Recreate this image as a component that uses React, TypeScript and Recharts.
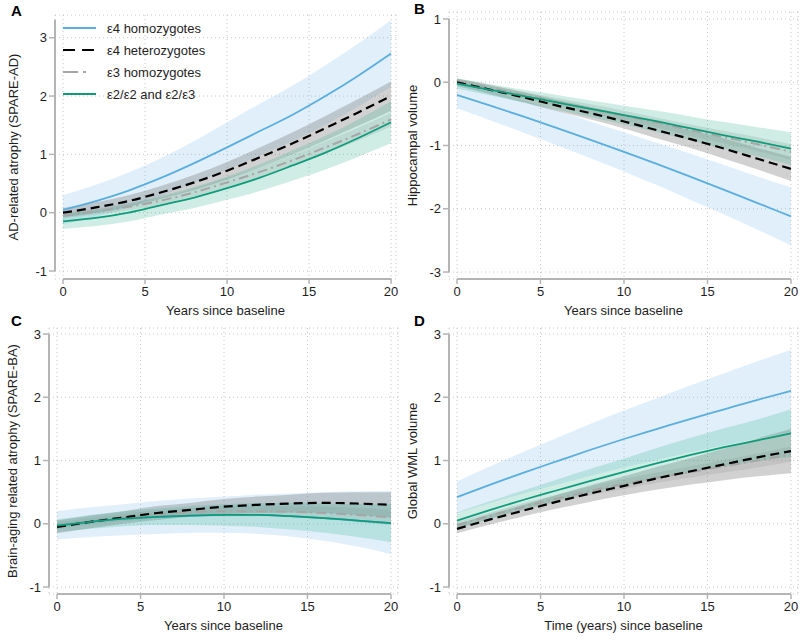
import React from "react";
import {
  ComposedChart,
  Line,
  Area,
  XAxis,
  YAxis,
  CartesianGrid,
  ReferenceLine,
} from "recharts";

// shared x values / ticks
const YEARS = [0, 2, 4, 6, 8, 10, 12, 14, 16, 18, 20];
const X_TICKS = [0, 5, 10, 15, 20];
const SERIES_NAMES = ["ε4 homozygotes", "ε4 heterozygotes", "ε3 homozygotes", "ε2/ε2 and ε2/ε3"];

// Panel A - SPARE-AD
const A_E4HOM = [0.05, 0.2, 0.38, 0.6, 0.85, 1.12, 1.4, 1.68, 2.0, 2.35, 2.73];
const A_E4HOM_LO = [-0.2, -0.07, 0.09, 0.29, 0.51, 0.74, 0.98, 1.23, 1.51, 1.82, 2.16];
const A_E4HOM_HI = [0.3, 0.48, 0.69, 0.94, 1.23, 1.55, 1.87, 2.18, 2.53, 2.9, 3.3];
const A_E4HET = [0.0, 0.09, 0.2, 0.35, 0.52, 0.72, 0.95, 1.19, 1.45, 1.72, 2.0];
const A_E4HET_LO = [-0.08, 0.0, 0.1, 0.24, 0.39, 0.57, 0.78, 1.0, 1.24, 1.49, 1.75];
const A_E4HET_HI = [0.08, 0.18, 0.3, 0.46, 0.65, 0.87, 1.12, 1.38, 1.66, 1.95, 2.25];
const A_E3HOM = [-0.05, 0.02, 0.1, 0.21, 0.35, 0.52, 0.7, 0.9, 1.12, 1.35, 1.6];
const A_E3HOM_LO = [-0.1, -0.03, 0.04, 0.15, 0.28, 0.44, 0.62, 0.81, 1.02, 1.24, 1.48];
const A_E3HOM_HI = [0.0, 0.07, 0.16, 0.27, 0.42, 0.6, 0.78, 0.99, 1.22, 1.46, 1.72];
const A_E2 = [-0.15, -0.09, 0.0, 0.13, 0.26, 0.42, 0.6, 0.81, 1.03, 1.28, 1.55];
const A_E2_LO = [-0.28, -0.23, -0.15, -0.03, 0.08, 0.22, 0.37, 0.55, 0.74, 0.96, 1.19];
const A_E2_HI = [-0.02, 0.05, 0.15, 0.29, 0.44, 0.62, 0.83, 1.07, 1.32, 1.6, 1.91];

// Panel B - hippocampal volume
const B_E4HOM = [-0.2, -0.37, -0.545, -0.725, -0.91, -1.1, -1.295, -1.495, -1.7, -1.91, -2.12];
const B_E4HOM_LO = [-0.41, -0.6, -0.8, -1.0, -1.2, -1.41, -1.63, -1.86, -2.09, -2.33, -2.58];
const B_E4HOM_HI = [0.01, -0.14, -0.29, -0.45, -0.62, -0.79, -0.96, -1.13, -1.31, -1.49, -1.66];
const B_E4HET = [0.0, -0.12, -0.24, -0.37, -0.49, -0.62, -0.76, -0.9, -1.05, -1.21, -1.37];
const B_E4HET_LO = [-0.06, -0.19, -0.32, -0.46, -0.59, -0.73, -0.89, -1.04, -1.21, -1.38, -1.56];
const B_E4HET_HI = [0.06, -0.05, -0.16, -0.28, -0.39, -0.51, -0.63, -0.76, -0.89, -1.04, -1.18];
const B_E3HOM = [0.02, -0.09, -0.2, -0.31, -0.42, -0.53, -0.64, -0.76, -0.87, -0.98, -1.1];
const B_E3HOM_LO = [-0.02, -0.14, -0.25, -0.37, -0.49, -0.61, -0.72, -0.85, -0.97, -1.09, -1.22];
const B_E3HOM_HI = [0.06, -0.04, -0.15, -0.25, -0.35, -0.45, -0.56, -0.67, -0.77, -0.87, -0.98];
const B_E2 = [-0.02, -0.12, -0.22, -0.32, -0.42, -0.52, -0.62, -0.73, -0.84, -0.94, -1.05];
const B_E2_LO = [-0.1, -0.21, -0.32, -0.44, -0.55, -0.67, -0.79, -0.92, -1.05, -1.17, -1.31];
const B_E2_HI = [0.06, -0.03, -0.12, -0.2, -0.29, -0.37, -0.45, -0.54, -0.63, -0.71, -0.79];

// Panel C - SPARE-BA (ε4 homozygote line sits under the ε2 line)
const C_E4HOM = [-0.03, 0.03, 0.08, 0.11, 0.13, 0.14, 0.14, 0.12, 0.09, 0.05, 0.01];
const C_E4HOM_LO = [-0.25, -0.21, -0.18, -0.16, -0.14, -0.14, -0.16, -0.2, -0.27, -0.36, -0.48];
const C_E4HOM_HI = [0.2, 0.26, 0.31, 0.36, 0.4, 0.43, 0.46, 0.48, 0.5, 0.51, 0.52];
const C_E4HET = [-0.05, 0.03, 0.1, 0.17, 0.22, 0.27, 0.3, 0.32, 0.33, 0.32, 0.3];
const C_E4HET_LO = [-0.15, -0.07, 0.0, 0.06, 0.11, 0.15, 0.17, 0.18, 0.17, 0.14, 0.1];
const C_E4HET_HI = [0.05, 0.13, 0.2, 0.28, 0.33, 0.39, 0.43, 0.46, 0.49, 0.5, 0.5];
const C_E3HOM = [-0.03, 0.04, 0.1, 0.15, 0.18, 0.2, 0.2, 0.19, 0.17, 0.14, 0.1];
const C_E3HOM_LO = [-0.08, -0.01, 0.04, 0.09, 0.11, 0.12, 0.12, 0.1, 0.07, 0.03, -0.02];
const C_E3HOM_HI = [0.02, 0.09, 0.16, 0.21, 0.25, 0.28, 0.28, 0.28, 0.27, 0.25, 0.22];
const C_E2 = [-0.03, 0.03, 0.08, 0.11, 0.13, 0.14, 0.14, 0.12, 0.09, 0.05, 0.01];
const C_E2_LO = [-0.13, -0.08, -0.04, -0.02, -0.02, -0.03, -0.05, -0.09, -0.14, -0.21, -0.29];
const C_E2_HI = [0.07, 0.14, 0.2, 0.24, 0.28, 0.31, 0.33, 0.33, 0.32, 0.31, 0.31];

// Panel D - global WML volume
const D_E4HOM = [0.42, 0.62, 0.81, 0.99, 1.17, 1.34, 1.5, 1.66, 1.81, 1.96, 2.1];
const D_E4HOM_LO = [0.17, 0.33, 0.48, 0.62, 0.76, 0.89, 1.01, 1.13, 1.24, 1.35, 1.45];
const D_E4HOM_HI = [0.67, 0.91, 1.14, 1.36, 1.58, 1.79, 1.99, 2.19, 2.38, 2.57, 2.75];
const D_E4HET = [-0.08, 0.07, 0.21, 0.35, 0.48, 0.6, 0.72, 0.83, 0.94, 1.05, 1.15];
const D_E4HET_LO = [-0.15, -0.01, 0.12, 0.24, 0.35, 0.45, 0.54, 0.62, 0.69, 0.75, 0.8];
const D_E4HET_HI = [-0.01, 0.15, 0.3, 0.46, 0.61, 0.75, 0.9, 1.04, 1.19, 1.35, 1.5];
const D_E3HOM = [-0.02, 0.13, 0.27, 0.4, 0.52, 0.63, 0.73, 0.82, 0.91, 1.0, 1.1];
const D_E3HOM_LO = [-0.07, 0.08, 0.21, 0.34, 0.45, 0.55, 0.65, 0.73, 0.81, 0.89, 0.98];
const D_E3HOM_HI = [0.03, 0.18, 0.33, 0.46, 0.59, 0.71, 0.81, 0.91, 1.01, 1.11, 1.22];
const D_E2 = [0.05, 0.22, 0.38, 0.53, 0.68, 0.82, 0.96, 1.09, 1.21, 1.32, 1.43];
const D_E2_LO = [-0.08, 0.08, 0.23, 0.36, 0.49, 0.61, 0.72, 0.82, 0.91, 0.99, 1.05];
const D_E2_HI = [0.18, 0.36, 0.53, 0.7, 0.87, 1.03, 1.2, 1.36, 1.51, 1.65, 1.81];

const FONT = '"Liberation Sans", Arial, sans-serif';
const TEXT = "#1e1e1e";
const AXIS = "#b4b4b4";

// one style per genotype group, same order as SERIES_NAMES
const STYLES = [
  { color: "#5aaedd", band: "#7dbce9", bandOpacity: 0.24, dash: undefined, width: 1.8, legendDash: undefined },
  { color: "#000000", band: "#707070", bandOpacity: 0.32, dash: "9 5", width: 2.2, legendDash: "12 7" },
  { color: "#a6a6a6", band: "#9c9c9c", bandOpacity: 0.25, dash: "10 4 2 4", width: 2, legendDash: "15 5 3 20" },
  { color: "#109c7a", band: "#3cb493", bandOpacity: 0.24, dash: undefined, width: 1.8, legendDash: undefined },
];
const LINE_ORDER = [0, 2, 1, 3];

type Series = { mean: number[]; lo: number[]; hi: number[] };

type PanelDef = {
  letter: string;
  yTitle: string;
  xTitle: string;
  left: number;
  top: number;
  height: number;
  yAxisWidth: number;
  mTop: number;
  mRight: number;
  xAxisHeight: number;
  xDomain: [number, number];
  yDomain: [number, number];
  yTicks: number[];
  ySpan: [number, number];
  xTitleOffset: number;
  yTitleX: number;
  series: Series[];
};

const PANELS: PanelDef[] = [
  {
    letter: "A",
    yTitle: "AD-related atrophy (SPARE-AD)",
    xTitle: "Years since baseline",
    left: 0, top: 0, height: 320,
    yAxisWidth: 55, mTop: 15, mRight: 4, xAxisHeight: 41,
    xDomain: [-0.49, 20.3], yDomain: [-1.137, 3.39], yTicks: [-1, 0, 1, 2, 3], ySpan: [-1, 3.31],
    xTitleOffset: 5, yTitleX: 13,
    series: [
      { mean: A_E4HOM, lo: A_E4HOM_LO, hi: A_E4HOM_HI },
      { mean: A_E4HET, lo: A_E4HET_LO, hi: A_E4HET_HI },
      { mean: A_E3HOM, lo: A_E3HOM_LO, hi: A_E3HOM_HI },
      { mean: A_E2, lo: A_E2_LO, hi: A_E2_HI },
    ],
  },
  {
    letter: "B",
    yTitle: "Hippocampal volume",
    xTitle: "Years since baseline",
    left: 400, top: 0, height: 320,
    yAxisWidth: 49, mTop: 12, mRight: 2, xAxisHeight: 41,
    xDomain: [-0.48, 20.42], yDomain: [-3.11, 1.11], yTicks: [-3, -2, -1, 0, 1], ySpan: [-3, 1],
    xTitleOffset: 5, yTitleX: 12,
    series: [
      { mean: B_E4HOM, lo: B_E4HOM_LO, hi: B_E4HOM_HI },
      { mean: B_E4HET, lo: B_E4HET_LO, hi: B_E4HET_HI },
      { mean: B_E3HOM, lo: B_E3HOM_LO, hi: B_E3HOM_HI },
      { mean: B_E2, lo: B_E2_LO, hi: B_E2_HI },
    ],
  },
  {
    letter: "C",
    yTitle: "Brain-aging related atrophy (SPARE-BA)",
    xTitle: "Years since baseline",
    left: 0, top: 320, height: 321,
    yAxisWidth: 49, mTop: 8, mRight: 2, xAxisHeight: 47,
    xDomain: [-0.48, 20.42], yDomain: [-1.11, 3.095], yTicks: [-1, 0, 1, 2, 3], ySpan: [-1, 3],
    xTitleOffset: 11, yTitleX: 12,
    series: [
      { mean: C_E4HOM, lo: C_E4HOM_LO, hi: C_E4HOM_HI },
      { mean: C_E4HET, lo: C_E4HET_LO, hi: C_E4HET_HI },
      { mean: C_E3HOM, lo: C_E3HOM_LO, hi: C_E3HOM_HI },
      { mean: C_E2, lo: C_E2_LO, hi: C_E2_HI },
    ],
  },
  {
    letter: "D",
    yTitle: "Global WML volume",
    xTitle: "Time (years) since baseline",
    left: 400, top: 320, height: 321,
    yAxisWidth: 49, mTop: 8, mRight: 2, xAxisHeight: 47,
    xDomain: [-0.48, 20.42], yDomain: [-1.11, 3.095], yTicks: [-1, 0, 1, 2, 3], ySpan: [-1, 3],
    xTitleOffset: 11, yTitleX: 12,
    series: [
      { mean: D_E4HOM, lo: D_E4HOM_LO, hi: D_E4HOM_HI },
      { mean: D_E4HET, lo: D_E4HET_LO, hi: D_E4HET_HI },
      { mean: D_E3HOM, lo: D_E3HOM_LO, hi: D_E3HOM_HI },
      { mean: D_E2, lo: D_E2_LO, hi: D_E2_HI },
    ],
  },
];

function Panel({ p }: { p: PanelDef }) {
  const rows = YEARS.map((x, i) => {
    const r: Record<string, any> = { x };
    p.series.forEach((s, k) => {
      r[`m${k}`] = s.mean[i];
      r[`b${k}`] = [s.lo[i], s.hi[i]];
    });
    return r;
  });

  return (
    <div style={{ position: "absolute", left: p.left, top: p.top, width: 400, height: p.height }}>
      <ComposedChart
        width={400}
        height={p.height}
        data={rows}
        margin={{ top: p.mTop, right: p.mRight, bottom: 0, left: 0 }}
      >
        <CartesianGrid stroke="#c6c6c6" strokeDasharray="1 3" />
        <XAxis
          type="number"
          dataKey="x"
          domain={p.xDomain}
          ticks={X_TICKS}
          allowDataOverflow
          axisLine={false}
          tickLine={{ stroke: AXIS, strokeWidth: 1.5 }}
          tickSize={5}
          tickMargin={3}
          height={p.xAxisHeight}
          tick={{ fill: TEXT, fontSize: 13 }}
          label={{ value: p.xTitle, position: "insideBottom", offset: p.xTitleOffset, fill: TEXT, fontSize: 13 }}
        />
        <YAxis
          type="number"
          domain={p.yDomain}
          ticks={p.yTicks}
          allowDataOverflow
          axisLine={false}
          tickLine={{ stroke: AXIS, strokeWidth: 1.5 }}
          tickSize={6}
          tickMargin={2}
          width={p.yAxisWidth}
          tick={{ fill: TEXT, fontSize: 13 }}
          label={{
            value: p.yTitle,
            angle: -90,
            position: "insideLeft",
            offset: p.yTitleX,
            fill: TEXT,
            fontSize: 13,
            style: { textAnchor: "middle" },
          }}
        />
        {/* offset axis lines, Stata style */}
        <ReferenceLine
          segment={[{ x: p.xDomain[0], y: p.ySpan[0] }, { x: p.xDomain[0], y: p.ySpan[1] }]}
          stroke={AXIS}
          strokeWidth={2}
          ifOverflow="visible"
        />
        <ReferenceLine
          segment={[{ x: 0, y: p.yDomain[0] }, { x: 20, y: p.yDomain[0] }]}
          stroke={AXIS}
          strokeWidth={2}
          ifOverflow="visible"
        />
        {STYLES.map((s, k) => (
          <Area
            key={`band${k}`}
            type="monotone"
            dataKey={`b${k}`}
            stroke="none"
            fill={s.band}
            fillOpacity={s.bandOpacity}
            isAnimationActive={false}
            activeDot={false}
          />
        ))}
        {LINE_ORDER.map((k) => (
          <Line
            key={`line${k}`}
            type="monotone"
            dataKey={`m${k}`}
            stroke={STYLES[k].color}
            strokeWidth={STYLES[k].width}
            strokeDasharray={STYLES[k].dash}
            dot={false}
            activeDot={false}
            isAnimationActive={false}
          />
        ))}
      </ComposedChart>
      <div
        style={{
          position: "absolute",
          left: p.letter === "A" || p.letter === "C" ? 11 : 14,
          top: p.top === 0 ? (p.letter === "A" ? 3 : 1) : -7,
          fontSize: 15,
          fontWeight: "bold",
          lineHeight: "15px",
          color: "#000",
        }}
      >
        {p.letter}
      </div>
    </div>
  );
}

function GenotypeLegend() {
  return (
    <div style={{ position: "absolute", left: 63, top: 17, fontSize: 13, color: TEXT }}>
      {SERIES_NAMES.map((name, k) => (
        <div key={name} style={{ display: "flex", alignItems: "center", height: 22 }}>
          <svg width={34} height={22}>
            <line
              x1={0}
              x2={33}
              y1={11}
              y2={11}
              stroke={STYLES[k].color}
              strokeWidth={STYLES[k].width}
              strokeDasharray={STYLES[k].legendDash}
            />
          </svg>
          <span style={{ marginLeft: 10 }}>{name}</span>
        </div>
      ))}
    </div>
  );
}

export default function App() {
  return (
    <div
      style={{
        position: "absolute",
        left: 0,
        top: 0,
        width: 800,
        height: 641,
        background: "#fff",
        fontFamily: FONT,
      }}
    >
      {PANELS.map((p) => (
        <Panel key={p.letter} p={p} />
      ))}
      <GenotypeLegend />
    </div>
  );
}
